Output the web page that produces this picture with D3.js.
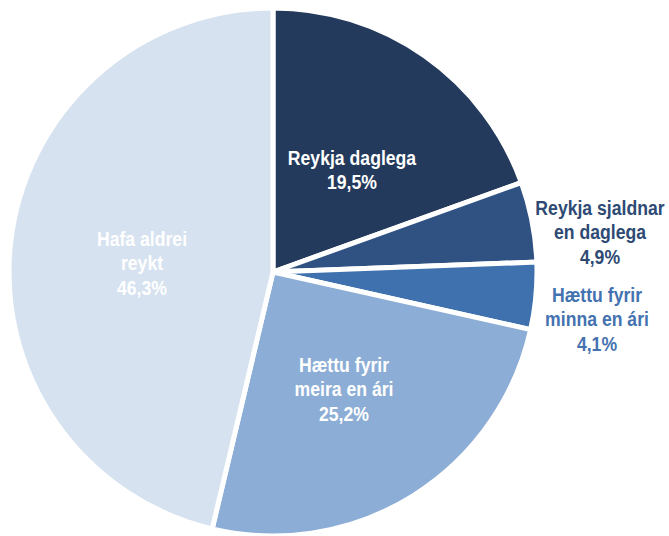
<!DOCTYPE html>
<html>
<head>
<meta charset="utf-8">
<script src="https://cdn.jsdelivr.net/npm/d3@7"></script>
<style>
  body { margin: 0; background: #fff; }
  text { font-family: "Liberation Sans Narrow", "Arial Narrow", "Liberation Sans", sans-serif; font-weight: bold; }
</style>
</head>
<body>
<div id="chart"></div>
<script>
// slice data, clockwise from 12 o'clock
const categories = ["Reykja daglega", "Reykja sjaldnar en daglega", "Hættu fyrir minna en ári", "Hættu fyrir meira en ári", "Hafa aldrei reykt"];
const values = [19.5, 4.9, 4.1, 25.2, 46.3];
const labelLines = [
  ["Reykja daglega"],
  ["Reykja sjaldnar", "en daglega"],
  ["Hættu fyrir", "minna en ári"],
  ["Hættu fyrir", "meira en ári"],
  ["Hafa aldrei", "reykt"]
];
const colors = ["#233a5c", "#2f5283", "#3e71ad", "#8cadd5", "#d6e2ef"];

const width = 669, height = 536;
const cx = 273, cy = 272, r = 264;

const svg = d3.select("#chart").append("svg")
    .attr("width", width)
    .attr("height", height);

const data = categories.map((c, i) => ({ name: c, value: values[i], lines: labelLines[i], color: colors[i] }));

const pie = d3.pie().value(d => d.value).sort(null);
const arc = d3.arc().innerRadius(0).outerRadius(r);
const arcs = pie(data);

const g = svg.append("g").attr("transform", `translate(${cx},${cy})`);

g.selectAll("path")
  .data(arcs)
  .join("path")
    .attr("d", arc)
    .attr("fill", d => d.data.color)
    .attr("stroke", "#fff")
    .attr("stroke-width", 5)
    .attr("stroke-linejoin", "miter");

// label anchor positions (centre of first line baseline), text colour
const labelPos = [
  { x: 352, y: 165, fill: "#fff" },
  { x: 600, y: 215, fill: "#2e4a74" },
  { x: 597, y: 302, fill: "#4472b0" },
  { x: 344, y: 372, fill: "#fff" },
  { x: 142, y: 246, fill: "#fff" }
];
const lineH = 24.5;
const squeeze = 0.84; // narrow-font look

arcs.forEach((a, i) => {
  const p = labelPos[i];
  const t = svg.append("text")
      .attr("transform", `translate(${p.x},${p.y}) scale(${squeeze},1)`)
      .attr("text-anchor", "middle")
      .attr("font-size", 21)
      .attr("fill", p.fill);
  const lines = a.data.lines.concat([d3.format(".1f")(a.data.value).replace(".", ",") + "%"]);
  lines.forEach((l, j) => {
    t.append("tspan")
      .attr("x", 0)
      .attr("y", j * lineH)
      .text(l);
  });
});
</script>
</body>
</html>
